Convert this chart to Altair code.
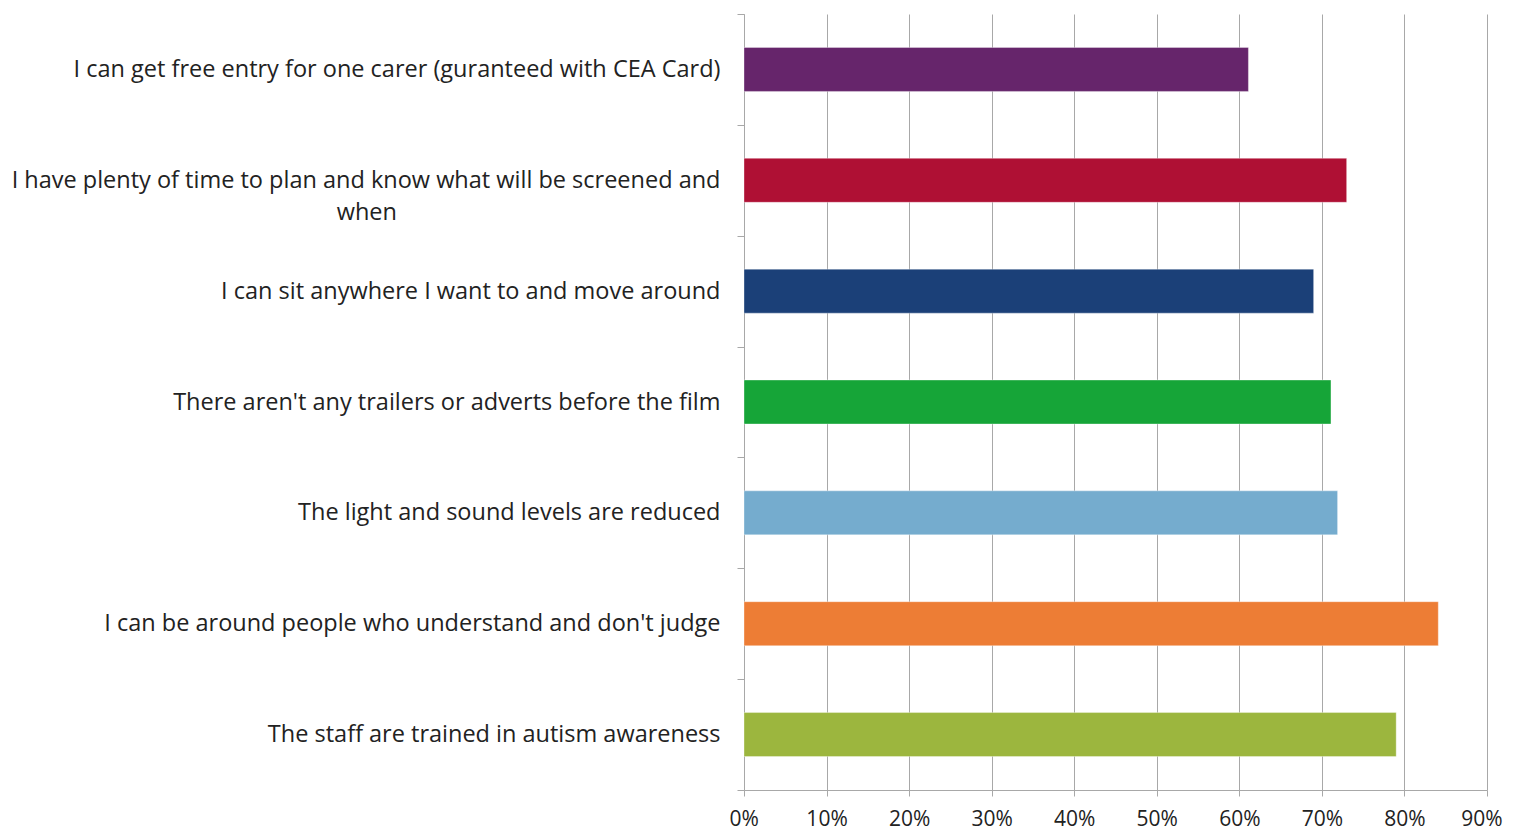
import altair as alt
import pandas as pd

NB = "\u00a0"
ZW = "\u200b"
categories = [
    "I can get free entry for one carer (guranteed with CEA Card)",
    "I have plenty of time to plan and know what will be screened and|when" + NB * 53 + ZW,
    "I can sit anywhere I want to and move around",
    "There aren't any trailers or adverts before the film",
    "The light and sound levels are reduced",
    "I can be around people who understand and don't judge",
    "The staff are trained in autism awareness",
]
values = [0.611, 0.730, 0.690, 0.711, 0.719, 0.841, 0.790]
colors = ["#66256B", "#AF1034", "#1B4078", "#16A538", "#75ACCE", "#ED7D35", "#9CB63E"]
x_ticks = [0, 0.1, 0.2, 0.3, 0.4, 0.5, 0.6, 0.7, 0.8, 0.9]

df = pd.DataFrame({"label": categories, "value": values, "color": colors})

FONT = "Open Sans"

chart = (
    alt.Chart(df)
    .mark_bar(size=44, stroke="#ffffff", strokeOpacity=0.35, strokeWidth=1)
    .encode(
        x=alt.X(
            "value:Q",
            scale=alt.Scale(domain=[0, 0.9], nice=False),
            axis=alt.Axis(
                values=x_ticks,
                format=".0%",
                title=None,
                grid=True,
                gridColor="#a8a8a8",
                gridWidth=1,
                domainColor="#a8a8a8",
                tickColor="#a8a8a8",
                tickSize=6,
                labelFont=FONT,
                labelFontSize=21,
                labelColor="#222222",
                labelPadding=12,
                labelFlush=True,
                labelFlushOffset=15,
            ),
        ),
        y=alt.Y(
            "label:N",
            sort=None,
            scale=alt.Scale(paddingInner=0, paddingOuter=0),
            axis=alt.Axis(
                title=None,
                grid=False,
                tickBand="extent",
                domainColor="#a8a8a8",
                tickColor="#a8a8a8",
                tickSize=7,
                labelFont=FONT,
                labelFontSize=23.5,
                labelColor="#222222",
                labelLimit=800,
                labelLineHeight=32,
                labelExpr="split(datum.label, '|')",
                labelAlign="right",
                labelPadding=17,
            ),
        ),
        color=alt.Color("color:N", scale=None),
    )
    .properties(
        width=743,
        height=776,
        autosize=alt.AutoSizeParams(type="none"),
        padding={"left": 736, "top": 6, "right": 18, "bottom": 48},
    )
    .configure_view(stroke=None)
)

chart.save("out.html", embed_options={"renderer": "svg", "actions": False})
